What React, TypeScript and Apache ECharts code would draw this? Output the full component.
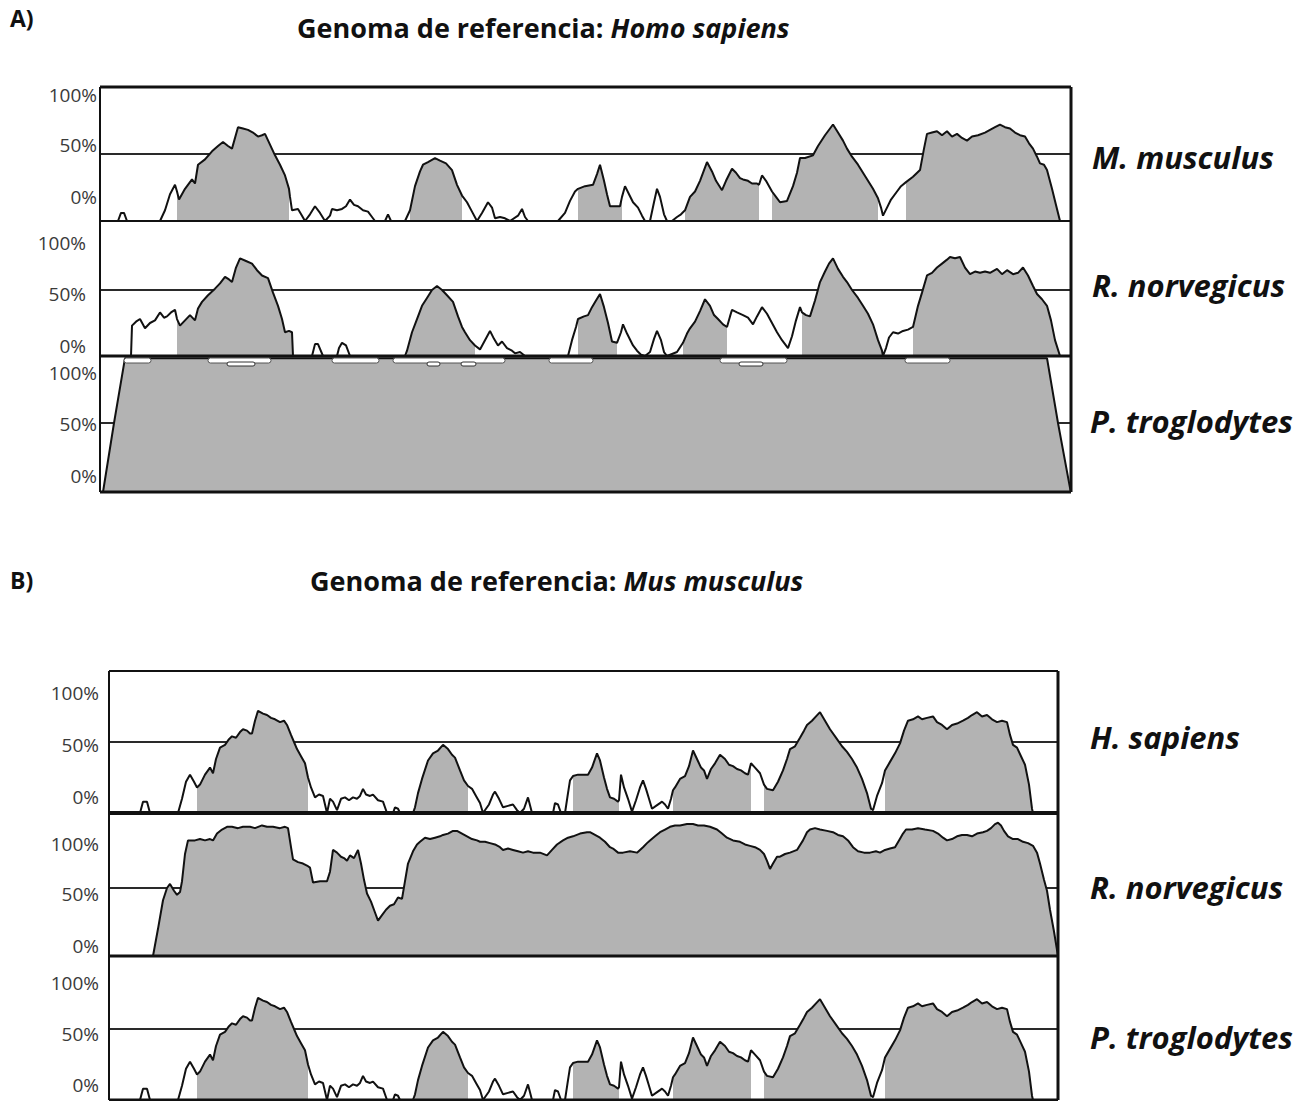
import React, { useEffect, useRef } from 'react';
import * as echarts from 'echarts';

// ---- Tick labels (identity scale) ----
const TICK_LABELS = ['100%', '50%', '0%'];

// ---- Panel A: reference genome Homo sapiens (position, % identity) ----
const A_MUS: number[][] = [
  [0,0],[18,0],[21,6],[24,6],[27,0],[60,0],[65,8],[70,20],[75,27],[77,22],[79,16],[85,24],[92,31],[95,28],[98,42],[105,46],[112,52],[118,56],[123,59],[128,56],[132,54],[138,70],[143,69],[148,68],[153,66],[158,63],[162,64],[165,65],[170,57],[175,49],[180,42],[185,34],[189,24],[190,18],[192,8],[198,9],[202,4],[205,0],[210,5],[215,11],[220,6],[225,0],[230,4],[232,9],[237,8],[242,9],[246,11],[250,16],[254,12],[258,11],[263,8],[268,7],[272,3],[275,0],[285,0],[288,5],[291,0],[305,0],[310,8],[315,26],[320,37],[323,42],[328,44],[335,47],[340,45],[346,43],[352,38],[357,27],[362,19],[367,14],[372,7],[377,0],[382,6],[388,14],[392,10],[395,2],[400,3],[405,2],[410,0],[418,4],[422,9],[425,3],[428,0],[458,0],[465,6],[470,15],[475,22],[478,24],[485,26],[493,27],[497,35],[500,42],[504,30],[507,20],[510,11],[515,11],[520,11],[522,18],[525,26],[529,20],[533,14],[538,10],[542,4],[545,0],[550,0],[554,14],[557,24],[560,18],[564,5],[567,0],[572,0],[577,3],[581,5],[585,8],[590,18],[595,22],[600,30],[607,44],[612,37],[616,30],[622,23],[626,30],[632,39],[636,36],[640,32],[643,31],[648,30],[652,28],[657,28],[659,27],[662,34],[666,30],[672,22],[676,18],[680,14],[687,15],[693,26],[697,36],[700,47],[705,47],[713,49],[718,56],[725,64],[733,72],[738,66],[743,60],[747,54],[752,48],[758,42],[763,36],[768,30],[773,24],[778,17],[781,10],[783,4],[787,10],[791,16],[797,22],[801,26],[806,29],[813,33],[820,38],[824,54],[827,65],[832,66],[837,67],[842,64],[847,67],[852,63],[857,65],[862,62],[867,60],[872,63],[878,64],[885,66],[890,68],[895,70],[900,72],[905,70],[910,69],[915,66],[920,64],[925,63],[929,58],[933,54],[937,48],[940,43],[944,42],[947,38],[952,24],[956,12],[960,0],[971,0]
];
const A_MUS_CNS: number[][] = [[77,189],[310,362],[478,522],[585,659],[672,778],[806,960]];

const A_RAT: number[][] = [
  [0,0],[31,0],[32,23],[36,26],[40,28],[45,21],[50,25],[55,27],[60,33],[64,29],[67,30],[71,33],[75,35],[77,28],[80,23],[85,27],[90,31],[95,27],[98,36],[102,41],[108,46],[115,51],[120,55],[125,60],[129,58],[132,56],[136,67],[140,74],[146,72],[152,70],[157,65],[162,61],[168,59],[173,48],[178,38],[182,28],[185,18],[189,19],[192,18],[193,0],[212,0],[215,9],[218,9],[223,0],[237,0],[239,6],[242,10],[246,8],[250,0],[305,0],[307,4],[312,18],[317,28],[322,38],[327,44],[332,50],[337,53],[342,50],[347,46],[353,41],[358,30],[362,22],[365,18],[370,12],[375,8],[380,5],[385,12],[390,19],[394,13],[398,8],[402,11],[407,6],[412,4],[415,2],[420,3],[425,0],[468,0],[472,12],[476,22],[478,28],[484,30],[488,31],[492,37],[496,42],[500,47],[504,37],[508,25],[512,11],[517,10],[521,18],[523,24],[527,17],[533,8],[537,4],[541,1],[545,0],[550,3],[554,13],[557,19],[561,12],[564,3],[567,0],[577,3],[583,10],[587,17],[590,21],[595,26],[600,34],[605,43],[610,38],[614,31],[618,28],[623,24],[627,22],[630,30],[632,35],[637,33],[643,31],[648,29],[653,24],[657,30],[662,37],[667,32],[672,25],[677,18],[682,12],[688,6],[692,15],[696,27],[700,37],[702,33],[706,31],[710,30],[715,42],[720,56],[725,64],[729,70],[733,74],[738,66],[743,60],[747,56],[752,50],[758,44],[763,38],[768,32],[773,24],[778,12],[782,4],[783,0],[786,6],[789,14],[793,18],[798,17],[803,19],[808,20],[813,22],[818,38],[822,48],[827,61],[832,63],[837,67],[842,70],[847,73],[850,75],[855,74],[860,75],[865,67],[870,62],[875,64],[880,63],[885,64],[890,63],[897,66],[902,62],[907,65],[913,62],[918,63],[923,67],[928,61],[933,53],[937,47],[942,43],[947,38],[951,27],[955,12],[960,0],[971,0]
];
const A_RAT_CNS: number[][] = [[77,192],[307,375],[478,517],[583,627],[702,782],[813,960]];

const A_CHIMP: number[][] = [[0,0],[3,0],[14,50],[25,97],[947,97],[958,50],[970,3],[971,0]];
const A_CHIMP_CNS: number[][] = [[0,971]];

// gene features drawn along the top of the chimp track
const A_EXONS: number[][] = [[24,51],[108,171],[232,279],[293,405],[449,493],[620,687],[805,850]];
const A_CDS: number[][] = [[127,155],[327,340],[361,376],[639,663]];

// ---- Panel B: reference genome Mus musculus ----
const B_HUMAN: number[][] = [
  [0,0],[31,0],[34,8],[38,8],[41,0],[69,0],[73,10],[77,22],[81,27],[85,22],[88,18],[91,20],[96,27],[101,32],[104,28],[107,38],[111,46],[116,48],[120,52],[123,54],[127,53],[131,57],[134,59],[138,58],[141,56],[143,56],[146,65],[149,72],[154,70],[158,69],[162,67],[166,66],[171,64],[175,65],[178,62],[182,55],[185,50],[188,45],[192,40],[196,35],[199,25],[202,18],[206,11],[210,13],[214,12],[218,0],[221,10],[224,8],[228,2],[232,10],[236,11],[240,9],[244,11],[248,10],[251,12],[254,17],[257,13],[261,12],[264,13],[269,9],[274,8],[278,0],[284,0],[286,4],[289,3],[291,0],[304,0],[306,4],[309,14],[313,24],[319,37],[324,42],[329,44],[334,48],[339,45],[343,41],[346,39],[351,30],[355,23],[359,19],[363,17],[367,12],[371,7],[374,0],[380,6],[384,13],[386,15],[390,10],[394,4],[399,5],[404,6],[408,2],[411,0],[415,3],[419,11],[423,0],[444,0],[446,7],[449,6],[452,0],[456,0],[459,14],[461,23],[464,26],[469,27],[475,27],[479,27],[483,32],[488,42],[491,37],[495,25],[498,17],[501,11],[505,10],[509,8],[510,9],[512,27],[515,18],[519,10],[523,1],[527,9],[531,18],[534,23],[537,17],[540,10],[543,3],[547,5],[551,7],[553,8],[556,6],[559,3],[562,10],[564,16],[566,18],[571,24],[576,26],[580,33],[584,44],[588,38],[592,32],[595,30],[598,24],[602,31],[606,35],[611,41],[616,38],[620,34],[624,33],[628,31],[632,30],[636,28],[639,27],[642,35],[646,32],[651,28],[655,20],[658,17],[664,16],[669,22],[674,30],[678,38],[681,45],[686,47],[691,53],[695,58],[698,62],[703,65],[707,68],[711,71],[716,65],[721,59],[728,52],[733,47],[738,43],[743,38],[748,32],[753,24],[758,14],[762,3],[764,2],[768,12],[773,21],[776,30],[781,36],[786,42],[791,49],[795,58],[799,65],[804,66],[809,68],[813,66],[818,67],[824,68],[828,64],[833,62],[838,59],[843,62],[848,63],[854,65],[859,67],[863,69],[868,71],[873,68],[878,69],[883,66],[888,64],[893,65],[898,64],[901,55],[904,48],[908,46],[912,40],[916,34],[920,20],[923,3],[924,0],[949,0]
];
const B_HUMAN_CNS: number[][] = [[88,199],[306,359],[464,510],[564,642],[655,762],[776,923]];

const B_RAT: number[][] = [
  [0,0],[44,0],[49,20],[54,41],[58,50],[61,53],[65,48],[68,45],[71,47],[73,55],[76,75],[79,85],[86,85],[91,86],[96,85],[101,86],[104,85],[108,90],[113,93],[118,95],[123,95],[129,94],[134,95],[141,95],[146,94],[153,96],[158,95],[164,95],[171,94],[176,95],[179,94],[182,80],[184,71],[189,69],[194,68],[199,66],[201,65],[204,54],[211,55],[218,55],[221,62],[224,78],[228,76],[232,73],[235,72],[238,70],[241,74],[245,72],[249,78],[252,68],[255,56],[258,46],[262,40],[266,32],[269,26],[273,30],[277,34],[281,37],[285,38],[289,43],[293,42],[296,55],[299,68],[304,77],[308,82],[311,84],[316,87],[321,86],[326,87],[331,88],[334,89],[339,90],[344,92],[348,92],[353,90],[358,88],[363,86],[368,85],[371,84],[376,84],[381,83],[386,82],[391,80],[394,78],[399,79],[404,78],[409,77],[414,76],[419,77],[424,76],[431,76],[438,74],[443,78],[448,82],[454,85],[459,87],[464,88],[471,90],[478,91],[481,91],[486,89],[491,87],[496,84],[501,80],[504,79],[509,76],[514,76],[521,77],[528,76],[534,80],[538,83],[541,85],[546,88],[551,91],[556,93],[561,95],[566,96],[571,96],[578,97],[584,97],[589,96],[595,96],[601,95],[608,93],[613,90],[618,87],[624,85],[631,84],[636,82],[641,81],[646,80],[651,78],[655,75],[658,70],[661,64],[664,68],[668,73],[671,73],[676,75],[681,76],[688,78],[694,85],[698,91],[701,93],[706,94],[711,93],[718,92],[724,91],[729,89],[734,88],[739,85],[744,80],[749,77],[755,76],[761,76],[767,77],[771,76],[776,78],[781,79],[786,80],[790,85],[794,90],[797,93],[803,93],[809,94],[816,93],[824,92],[829,90],[834,87],[838,85],[843,86],[848,88],[853,89],[858,89],[863,88],[868,90],[874,91],[878,92],[882,94],[886,97],[889,98],[892,96],[895,92],[899,88],[904,86],[909,86],[914,84],[919,83],[924,81],[928,76],[931,68],[935,56],[938,48],[941,34],[945,18],[949,0]
];
const B_RAT_CNS: number[][] = [[44,949]];

// chimp vs mouse gives the same profile as human vs mouse
const B_CHIMP = B_HUMAN;
const B_CHIMP_CNS = B_HUMAN_CNS;

const THRESHOLD = 50;

// ---- layout ----
const FONT = '"Open Sans", "Noto Sans", sans-serif';
const FILL = '#b3b3b3';
const INK = '#111';

type Track = {
  species: string;
  data: number[][];
  cns: number[][];
  top: number;
  height: number;
  labelY: number[];
  labelRight: number;
  speciesY: number;
  speciesX: number;
  baseWidth: number;
};

type Panel = {
  left: number;
  width: number;
  span: number;
  tag: string;
  tagY: number;
  ref: string;
  titleX: number;
  titleY: number;
  topWidth: number;
  tracks: Track[];
};

const PANELS: Panel[] = [
  {
    left: 100, width: 971, span: 971, tag: 'A)', tagY: 18,
    ref: 'Homo sapiens', titleX: 297, titleY: 27, topWidth: 3,
    tracks: [
      { species: 'M. musculus', data: A_MUS, cns: A_MUS_CNS, top: 87, height: 134, labelY: [95, 145, 197], labelRight: 97, speciesX: 1092, speciesY: 157, baseWidth: 2 },
      { species: 'R. norvegicus', data: A_RAT, cns: A_RAT_CNS, top: 224, height: 132, labelY: [243, 294, 346], labelRight: 86, speciesX: 1092, speciesY: 285, baseWidth: 3 },
      { species: 'P. troglodytes', data: A_CHIMP, cns: A_CHIMP_CNS, top: 354, height: 138, labelY: [373, 424, 476], labelRight: 97, speciesX: 1090, speciesY: 421, baseWidth: 3 },
    ],
  },
  {
    left: 109, width: 949, span: 949, tag: 'B)', tagY: 580,
    ref: 'Mus musculus', titleX: 310, titleY: 580, topWidth: 2,
    tracks: [
      { species: 'H. sapiens', data: B_HUMAN, cns: B_HUMAN_CNS, top: 671, height: 142, labelY: [693, 745, 797], labelRight: 99, speciesX: 1090, speciesY: 737, baseWidth: 4 },
      { species: 'R. norvegicus', data: B_RAT, cns: B_RAT_CNS, top: 820, height: 136, labelY: [844, 894, 946], labelRight: 99, speciesX: 1090, speciesY: 887, baseWidth: 3 },
      { species: 'P. troglodytes', data: B_CHIMP, cns: B_CHIMP_CNS, top: 958, height: 142, labelY: [983, 1034, 1085], labelRight: 99, speciesX: 1090, speciesY: 1037, baseWidth: 3 },
    ],
  },
];

// keep only the curve inside conserved intervals, with breaks between them
function shadedData(curve: number[][], cns: number[][]) {
  const out: any[] = [];
  cns.forEach(([s, e], i) => {
    curve.forEach((p) => {
      if (p[0] >= s && p[0] <= e) out.push(p);
    });
    if (i < cns.length - 1) out.push([e, '-']);
  });
  return out;
}

function buildOption() {
  const grid: any[] = [];
  const xAxis: any[] = [];
  const yAxis: any[] = [];
  const series: any[] = [];
  const graphic: any[] = [];

  let gi = 0;
  PANELS.forEach((panel) => {
    // panel tag and title
    graphic.push({
      type: 'text', x: 10, y: panel.tagY, z: 100,
      style: { text: panel.tag, fontFamily: FONT, fontWeight: 'bold', fontSize: 23, fill: INK, verticalAlign: 'middle' },
    });
    graphic.push({
      type: 'text', x: panel.titleX, y: panel.titleY, z: 100,
      style: {
        text: `{b|Genoma de referencia: }{i|${panel.ref}}`,
        verticalAlign: 'middle',
        rich: {
          b: { fontFamily: FONT, fontWeight: 'bold', fontSize: 27, fill: INK },
          i: { fontFamily: FONT, fontWeight: 'bold', fontStyle: 'italic', fontSize: 27, fill: INK },
        },
      },
    });

    panel.tracks.forEach((t) => {
      grid.push({ left: panel.left, top: t.top, width: panel.width, height: t.height, show: false });
      xAxis.push({ gridIndex: gi, type: 'value', min: 0, max: panel.span, show: false });
      yAxis.push({ gridIndex: gi, type: 'value', min: 0, max: 100, show: false });

      // 50% reference line, under the shading
      series.push({
        type: 'line', xAxisIndex: gi, yAxisIndex: gi, silent: true, symbol: 'none', z: 1,
        data: [[0, THRESHOLD], [panel.span, THRESHOLD]],
        lineStyle: { color: '#2a2a2a', width: 2 },
      });
      // shaded conserved regions
      series.push({
        type: 'line', xAxisIndex: gi, yAxisIndex: gi, silent: true, symbol: 'none', z: 2,
        connectNulls: false,
        data: shadedData(t.data, t.cns),
        lineStyle: { width: 0, opacity: 0 },
        areaStyle: { color: FILL, opacity: 1 },
      });
      // identity curve
      series.push({
        type: 'line', xAxisIndex: gi, yAxisIndex: gi, silent: true, symbol: 'none', z: 3,
        data: t.data,
        lineStyle: { color: INK, width: 2 },
      });

      // track baseline
      graphic.push({
        type: 'line', z: 50,
        shape: { x1: panel.left, y1: t.top + t.height, x2: panel.left + panel.width, y2: t.top + t.height },
        style: { stroke: INK, lineWidth: t.baseWidth },
      });

      // identity tick labels
      TICK_LABELS.forEach((lab, k) => {
        graphic.push({
          type: 'text', x: t.labelRight, y: t.labelY[k], z: 100,
          style: { text: lab, fontFamily: FONT, fontSize: 19, fill: '#3a3a3a', align: 'right', verticalAlign: 'middle' },
        });
      });

      // species name
      graphic.push({
        type: 'text', x: t.speciesX, y: t.speciesY, z: 100,
        style: { text: t.species, fontFamily: FONT, fontWeight: 'bold', fontStyle: 'italic', fontSize: 31, fill: INK, verticalAlign: 'middle' },
      });

      gi++;
    });

    // panel frame
    const first = panel.tracks[0];
    const last = panel.tracks[panel.tracks.length - 1];
    const top = first.top;
    const bottom = last.top + last.height;
    const right = panel.left + panel.width;
    graphic.push({ type: 'line', z: 60, shape: { x1: panel.left, y1: top, x2: right, y2: top }, style: { stroke: INK, lineWidth: panel.topWidth } });
    graphic.push({ type: 'line', z: 60, shape: { x1: panel.left, y1: top, x2: panel.left, y2: bottom }, style: { stroke: INK, lineWidth: 2 } });
    graphic.push({ type: 'line', z: 60, shape: { x1: right, y1: top, x2: right, y2: bottom }, style: { stroke: INK, lineWidth: 3 } });
  });

  // gene features on the top of the panel A chimp track (grid index 2)
  const featureSeries = (rows: number[][], dy: number, h: number, stroke: string) => ({
    type: 'custom', xAxisIndex: 2, yAxisIndex: 2, silent: true, z: 70,
    data: rows,
    renderItem: (_p: any, api: any) => {
      const a = api.coord([api.value(0), 100]);
      const b = api.coord([api.value(1), 100]);
      return {
        type: 'rect',
        shape: { x: a[0], y: a[1] + dy, width: b[0] - a[0], height: h, r: h / 2 },
        style: { fill: '#ffffff', stroke, lineWidth: 1 },
      };
    },
  });
  series.push(featureSeries(A_EXONS, 4, 5, '#555'));
  series.push(featureSeries(A_CDS, 8, 4, '#333'));

  return {
    animation: false,
    backgroundColor: '#ffffff',
    grid, xAxis, yAxis, series, graphic,
  };
}

export default function App() {
  const ref = useRef<HTMLDivElement>(null);
  useEffect(() => {
    if (!ref.current) return;
    const chart = echarts.init(ref.current, null, { renderer: 'svg' });
    chart.setOption(buildOption() as any);
    return () => chart.dispose();
  }, []);
  return (
    <div
      ref={ref}
      style={{ position: 'absolute', left: 0, top: 0, width: 1316, height: 1101, background: '#fff' }}
    />
  );
}
